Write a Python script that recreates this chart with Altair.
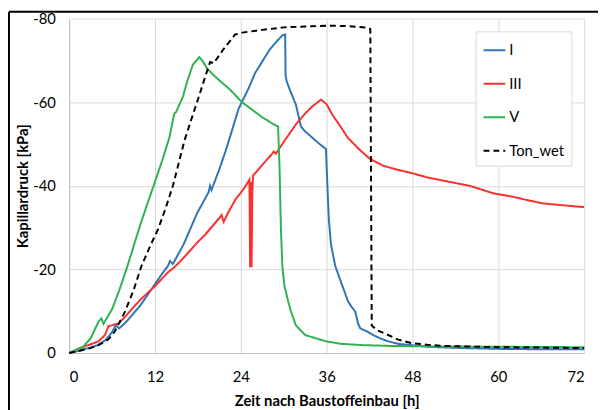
import altair as alt
import pandas as pd

# Series I (blue)
i_x = [0, 1, 2, 3, 4, 5, 6, 6.5, 7, 8, 9, 10, 11, 12, 13, 13.8, 14.1, 14.5, 16, 17.9, 19.5, 19.7, 19.9, 21, 22, 23.7, 25, 26, 27.2, 28, 29, 29.8, 30.2, 30.25, 30.4, 30.8, 31.7, 32.4, 33, 34, 35, 35.9, 36.1, 36.3, 36.6, 37.2, 38, 39, 39.5, 40, 40.4, 40.7, 41.6, 42.5, 43.5, 44.6, 46, 47.8, 50, 54.8, 60, 66, 72]
i_y = [0, -0.4, -0.9, -1.3, -1.9, -3, -5, -6.6, -5.9, -7.5, -9.5, -11.5, -14, -16.5, -19, -20.8, -22, -21.3, -26, -33.5, -38.5, -40, -39, -44, -49, -58.5, -63, -67, -70.3, -72.5, -74.5, -76, -76.2, -66.5, -65, -63.2, -59.4, -54.2, -53, -51.5, -50, -48.8, -40, -32, -26, -20.8, -17, -12.3, -11, -9.9, -7, -5.9, -5.2, -4.3, -3.5, -2.8, -2.2, -1.9, -1.5, -1.2, -1, -0.9, -0.9]

# Series III (red)
iii_x = [0, 1, 2, 3, 4.1, 5, 5.5, 6.9, 8, 9, 10.1, 12, 13.8, 14.7, 16, 17.9, 19, 20, 21.1, 21.3, 21.6, 22.2, 23.2, 24.5, 25.2, 25.3, 25.4, 25.5, 25.6, 25.7, 25.8, 26, 27, 28.3, 28.6, 28.9, 30, 31.7, 33, 34, 35.2, 36, 36.8, 38, 39, 40.5, 42, 43.9, 46, 48, 50.1, 53, 56, 59.3, 62, 64, 66.2, 68, 70, 72]
iii_y = [0, -0.8, -1.5, -2.1, -2.8, -4.3, -6.4, -7.1, -9, -11, -13, -16, -19.3, -20.5, -22.8, -26.4, -28.3, -30.3, -32.5, -33, -31.4, -33.5, -36.6, -39.5, -41.5, -20.5, -41, -20.5, -38, -42.5, -42.7, -43, -45, -47.5, -48.2, -47.7, -50.5, -54.7, -57.3, -59, -60.6, -59.5, -57, -54, -51.4, -48.8, -46.5, -44.8, -43.8, -43, -42, -41, -40, -38.2, -37.4, -36.6, -35.8, -35.5, -35.2, -34.9]

# Series V (green)
v_x = [0, 1, 2, 3, 4.1, 4.5, 4.8, 6, 7, 8, 9, 10, 10.6, 12, 13, 14, 14.7, 14.9, 15.9, 16.5, 17.3, 18.2, 18.6, 19.3, 20, 21, 22.5, 24.1, 25.5, 27, 28.5, 29.2, 29.4, 29.6, 29.8, 30.1, 30.6, 31, 31.7, 33, 35.9, 38, 41, 45, 50, 60, 72]
v_y = [0, -0.8, -1.6, -3.5, -7.5, -8.3, -7, -10.5, -15, -20, -25.5, -31, -34, -41, -46, -51.5, -57.3, -57.5, -61.3, -65, -69, -70.8, -70, -68, -66.8, -65.2, -63, -60.1, -58.3, -56.4, -54.8, -54.2, -45, -30, -20.8, -16, -12.5, -10, -6.6, -4.3, -2.8, -2.2, -1.9, -1.7, -1.6, -1.5, -1.4]

# Ton_wet (black dashed)
t_x = [0, 1.4, 3, 4.1, 5.5, 6.4, 7.8, 9, 10.1, 11.3, 12.4, 13.4, 14.5, 16.1, 17, 17.9, 19, 19.7, 20.2, 21.5, 23.2, 24.4, 27, 30, 33, 36.3, 39, 41.8, 42.1, 42.3, 43, 44.1, 46, 47.8, 50, 52.4, 60, 72]
t_y = [0, -0.5, -1.2, -1.9, -3.3, -5.2, -9.9, -15, -20.8, -25.5, -29.5, -34.2, -40, -50.7, -55.5, -60.1, -66, -69.6, -69.3, -72.5, -76.2, -76.7, -77.3, -77.9, -78.1, -78.3, -78.2, -77.8, -77.5, -6.6, -5.5, -4.7, -3.2, -2.4, -2, -1.7, -1.4, -1.2]

series_names = ["I", "III", "V", "Ton_wet"]
series_colors = ["#2e75b6", "#f8312f", "#2fb24f", "#000000"]
series_dash = [[1, 0], [1, 0], [1, 0], [6, 4]]

x_ticks = [0, 12, 24, 36, 48, 60, 72]
y_ticks = [0, -20, -40, -60, -80]

rows = []
for name, xs, ys in zip(series_names, [i_x, iii_x, v_x, t_x], [i_y, iii_y, v_y, t_y]):
    for k, (a, b) in enumerate(zip(xs, ys)):
        rows.append({"Serie": name, "t": a, "p": b, "i": k})
df = pd.DataFrame(rows)

FONT = "Lato"

lines = alt.Chart(df).mark_line(strokeWidth=2).encode(
    x=alt.X("t:Q", scale=alt.Scale(domain=[0, 72], nice=False),
            axis=alt.Axis(values=x_ticks, title="Zeit nach Baustoffeinbau [h]")),
    y=alt.Y("p:Q", scale=alt.Scale(domain=[0, -80], nice=False),
            axis=alt.Axis(values=y_ticks, title="Kapillardruck [kPa]",
                          labelExpr="'' + datum.value")),
    color=alt.Color("Serie:N", scale=alt.Scale(domain=series_names, range=series_colors),
                    legend=alt.Legend(title=None)),
    strokeDash=alt.StrokeDash("Serie:N", scale=alt.Scale(domain=series_names, range=series_dash),
                              legend=alt.Legend(title=None)),
    order=alt.Order("i:Q"),
)

frame_df = pd.DataFrame({"a": [0]})
frame_top = alt.Chart(frame_df).mark_rule(color="#000000", strokeWidth=2).encode(
    x=alt.value(-61), x2=alt.value(600), y=alt.value(-7), y2=alt.value(-7)
)
frame_left = alt.Chart(frame_df).mark_rule(color="#000000", strokeWidth=2).encode(
    x=alt.value(-61), x2=alt.value(-61), y=alt.value(-7), y2=alt.value(400)
)

chart = alt.layer(lines, frame_top, frame_left).properties(
    width=522, height=339,
    autosize=alt.AutoSizeParams(type="none"),
    padding={"left": 62, "top": 8, "right": 14, "bottom": 55},
).configure_view(stroke=None).configure_axis(
    grid=True, gridColor="#d9d9d9", gridWidth=1,
    domainColor="#bfbfbf", ticks=False,
    labelFont=FONT, labelFontSize=15, labelColor="#000000",
    titleFont=FONT, titleFontSize=15, titleFontWeight="bold", titleColor="#000000",
).configure_axisX(labelPadding=17, titlePadding=9).configure_axisY(
    labelPadding=14, titlePadding=2
).configure_legend(
    orient="none", legendX=412, legendY=13,
    fillColor="#ffffff", strokeColor="#d9d9d9", padding=7,
    symbolType="stroke", symbolSize=484, symbolStrokeWidth=2,
    rowPadding=14, labelFont=FONT, labelFontSize=15, labelColor="#000000",
    labelOffset=3,
)

chart.save("out.html", embed_options={"renderer": "svg", "actions": False})
